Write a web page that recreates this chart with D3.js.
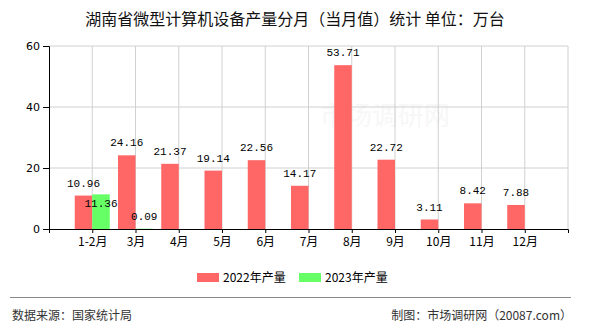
<!DOCTYPE html>
<html>
<head>
    <meta charset="utf-8">
    <title>湖南省微型计算机设备产量分月（当月值）统计</title>
    <script src="https://d3js.org/d3.v7.min.js"></script>
    <style>
        body { margin: 0; background: #fff; }
        text { font-family: "Noto Sans CJK SC", "Noto Sans", sans-serif; }
    </style>
</head>
<body>
    <div id="chart"></div>
    <script>

        var months = ["1-2月", "3月", "4月", "5月", "6月", "7月", "8月", "9月", "10月", "11月", "12月"];
        var values2022 = [10.96, 24.16, 21.37, 19.14, 22.56, 14.17, 53.71, 22.72, 3.11, 8.42, 7.88];
        var values2023 = [11.36, 0.09];
        var yTicks = [0, 20, 40, 60];
        var seriesNames = ["2022年产量", "2023年产量"];
        var colors = ["#ff6666", "#66ff66"];

        var W = 590, H = 330;
        var margin = {top: 46, right: 22, bottom: 101, left: 49};
        var width = W - margin.left - margin.right;
        var height = H - margin.top - margin.bottom;

        var root = d3.select("#chart")
                    .append("svg")
                    .attr("width", W)
                    .attr("height", H);

        // title
        root.append("text")
            .attr("x", W / 2)
            .attr("y", 25)
            .attr("text-anchor", "middle")
            .style("font-size", "16px")
            .attr("fill", "#111")
            .text("湖南省微型计算机设备产量分月（当月值）统计 单位：万台");

        // faint watermark
        root.append("text")
            .attr("x", 385)
            .attr("y", 125)
            .attr("text-anchor", "middle")
            .style("font-size", "26px")
            .attr("fill", "#f7f7f7")
            .text("市场调研网");

        var svg = root.append("g")
            .attr("transform", "translate(" + margin.left + "," + margin.top + ")");

        var x = d3.scalePoint()
            .domain(months)
            .range([0, width])
            .padding(1);

        var y = d3.scaleLinear()
            .domain([0, 60])
            .range([height, 0]);

        var barW = 17.5;

        // grid lines
        svg.selectAll(".hgrid")
            .data(yTicks.filter(function(d) { return d > 0; }))
            .enter().append("line")
            .attr("x1", 0).attr("x2", width)
            .attr("y1", function(d) { return y(d); })
            .attr("y2", function(d) { return y(d); })
            .attr("stroke", "#d0d0d0");

        svg.selectAll(".vgrid")
            .data(months)
            .enter().append("line")
            .attr("x1", function(d) { return x(d); })
            .attr("x2", function(d) { return x(d); })
            .attr("y1", 0).attr("y2", height)
            .attr("stroke", "#d0d0d0");

        svg.append("line")
            .attr("x1", width).attr("x2", width)
            .attr("y1", 0).attr("y2", height)
            .attr("stroke", "#d0d0d0");

        // bars 2022
        svg.selectAll(".bar22")
            .data(values2022)
            .enter().append("rect")
            .attr("x", function(d, i) { return x(months[i]) - barW; })
            .attr("y", function(d) { return y(d); })
            .attr("width", barW)
            .attr("height", function(d) { return height - y(d); })
            .attr("fill", colors[0]);

        // bars 2023
        svg.selectAll(".bar23")
            .data(values2023)
            .enter().append("rect")
            .attr("x", function(d, i) { return x(months[i]); })
            .attr("y", function(d) { return y(d); })
            .attr("width", barW)
            .attr("height", function(d) { return height - y(d); })
            .attr("fill", colors[1]);

        var fmt = d3.format(".2f");

        svg.selectAll(".lab22")
            .data(values2022)
            .enter().append("text")
            .attr("x", function(d, i) { return x(months[i]) - barW / 2; })
            .attr("y", function(d) { return y(d) - 9; })
            .attr("text-anchor", "middle")
            .style("font-family", "'Liberation Mono', 'DejaVu Sans Mono', monospace")
            .style("font-size", "11px")
            .attr("fill", "#000")
            .text(function(d) { return fmt(d); });

        // label of 2023 pushed below the 2022 label when they collide
        svg.selectAll(".lab23")
            .data(values2023)
            .enter().append("text")
            .attr("x", function(d, i) { return x(months[i]) + barW / 2; })
            .attr("y", function(d, i) {
                var yy = y(d) - 9;
                var other = y(values2022[i]) - 9;
                if (Math.abs(yy - other) < 14) yy = other + 20;
                return yy;
            })
            .attr("text-anchor", "middle")
            .style("font-family", "'Liberation Mono', 'DejaVu Sans Mono', monospace")
            .style("font-size", "11px")
            .attr("fill", "#000")
            .text(function(d) { return fmt(d); });

        // y axis
        var yAxis = svg.append("g")
            .call(d3.axisLeft(y).tickValues(yTicks).tickSize(6).tickPadding(3));
        yAxis.select(".domain").attr("stroke", "#000");
        yAxis.selectAll("text")
            .style("font-size", "11px")
            .style("font-family", "'DejaVu Sans', sans-serif")
            .attr("fill", "#000");

        // x axis
        var xAxis = svg.append("g")
            .attr("transform", "translate(0," + height + ")")
            .call(d3.axisBottom(x).tickSize(4).tickPadding(4).tickSizeOuter(4));
        xAxis.select(".domain").attr("stroke", "#000");
        xAxis.selectAll("text")
            .style("font-size", "12px")
            .attr("fill", "#000");

        // legend
        var legend = root.append("g");
        var lx = [197, 299];
        seriesNames.forEach(function(name, i) {
            legend.append("rect")
                .attr("x", lx[i])
                .attr("y", 273)
                .attr("width", 22)
                .attr("height", 9)
                .attr("fill", colors[i]);
            legend.append("text")
                .attr("x", lx[i] + 26)
                .attr("y", 282)
                .style("font-size", "12px")
                .attr("fill", "#000")
                .text(name);
        });

        // footer
        root.append("line")
            .attr("x1", 10).attr("x2", 571)
            .attr("y1", 297.5).attr("y2", 297.5)
            .attr("stroke", "#888");

        root.append("text")
            .attr("x", 12)
            .attr("y", 320)
            .style("font-size", "12px")
            .attr("fill", "#333")
            .text("数据来源：国家统计局");

        root.append("text")
            .attr("x", 572)
            .attr("y", 320)
            .attr("text-anchor", "end")
            .style("font-size", "12px")
            .attr("fill", "#333")
            .text("制图：市场调研网（20087.com）");

    </script>
</body>
</html>
